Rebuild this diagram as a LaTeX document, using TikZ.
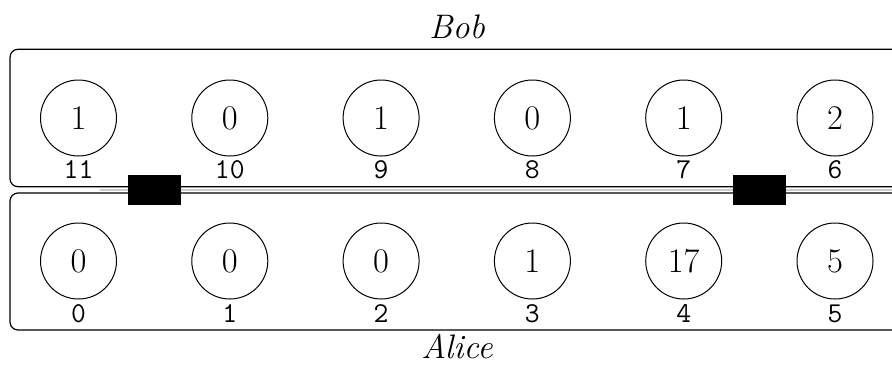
\documentclass[tikz,border=0pt]{standalone}
\begin{document}
\begin{tikzpicture}[x=0.5pt,y=-0.5pt,
  party/.style={rounded corners=4pt,line width=0.6pt},
  qubit/.style={draw,circle,minimum size=38pt,inner sep=0pt,line width=0.5pt,font=\fontsize{19}{22}\selectfont},
  idx/.style={anchor=base,inner sep=0pt,font=\fontsize{14.4}{17}\selectfont\ttfamily},
  who/.style={anchor=base,inner sep=0pt,font=\fontsize{17}{20}\selectfont\itshape},
  gate/.style={fill=black,draw=none,minimum width=26.5pt,minimum height=15pt,inner sep=0pt}]
\useasboundingbox (0,0) rectangle (892,365);
\clip (0,0) rectangle (892,365);
% wire between the parties
\coordinate (wl) at (100,189.8);
\coordinate (wr) at (900,189.8);
\draw[gray!40,line width=1.2pt] (wl) -- (wr);
% party boxes
\draw[party] (930,49.3) -- (10,49.3) -- (10,186.7) -- (930,186.7);
\draw[party] (930,193) -- (10,193) -- (10,330) -- (930,330);
% gates
\node[gate] (g1) at (154.5,190) {};
\node[gate] (g2) at (759.3,190) {};
% Bob's qubits
\foreach \v/\l [count=\i from 0] in {1/11,0/10,1/9,0/8,1/7,2/6}{
  \node[qubit] (b\l) at (78.5+151.3*\i,118) {$\v$};
  \node[idx] (bl\l) at (78.5+151.3*\i,178) {\l};
}
% Alice's qubits
\foreach \v/\l [count=\i from 0] in {0/0,0/1,0/2,1/3,17/4,5/5}{
  \node[qubit] (a\l) at (78.5+151.3*\i,261) {$\v$};
  \node[idx] (al\l) at (78.5+151.3*\i,322.5) {\l};
}
\node[who] (bob) at (457,38.3) {Bob};
\node[who] (alice) at (457,358.5) {Alice};
\end{tikzpicture}
\end{document}
